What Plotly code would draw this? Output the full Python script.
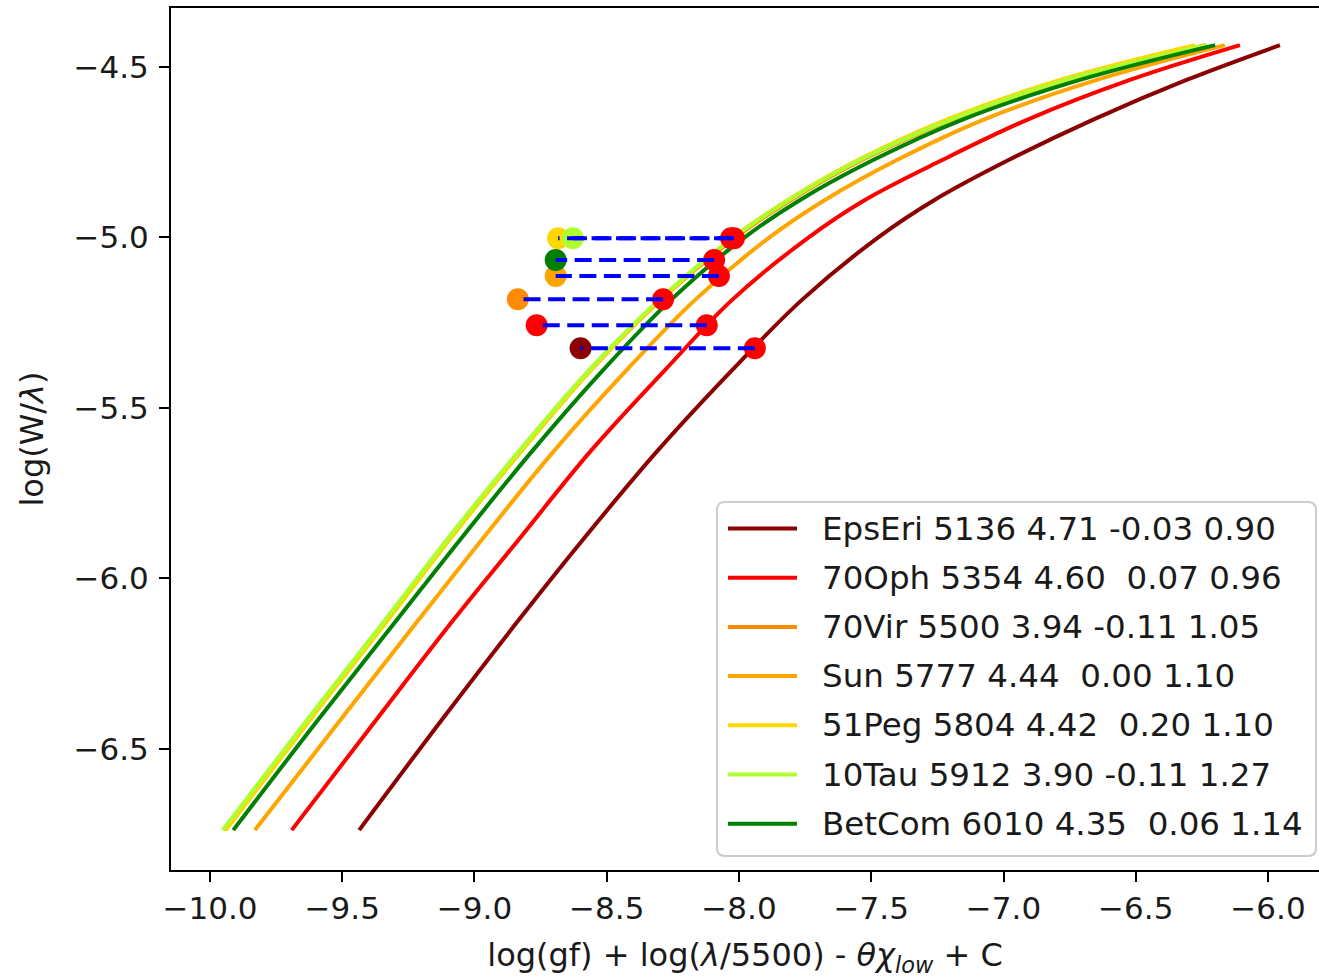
import plotly.graph_objects as go

# Stars: name, Teff, log g, [Fe/H], microturbulence, line colour
stars = ["EpsEri", "70Oph", "70Vir", "Sun", "51Peg", "10Tau", "BetCom"]
teff = [5136, 5354, 5500, 5777, 5804, 5912, 6010]
logg = [4.71, 4.60, 3.94, 4.44, 4.42, 3.90, 4.35]
feh = [-0.03, 0.07, -0.11, 0.00, 0.20, -0.11, 0.06]
vt = [0.90, 0.96, 1.05, 1.10, 1.10, 1.27, 1.14]
colors = ["darkred", "red", "darkorange", "orange", "gold", "greenyellow", "green"]

# Curves of growth: log(W/lambda) levels shared by all stars,
# abscissa of each star's curve at those levels
log_w = [-6.738, -6.415, -6.122, -5.887, -5.623, -5.389, -5.183, -5.001,
         -4.890, -4.773, -4.655, -4.538, -4.436]
cog_x = {
    "EpsEri": [-9.436, -9.124, -8.833, -8.591, -8.305, -8.026, -7.762, -7.476,
               -7.261, -6.981, -6.663, -6.308, -5.955],
    "70Oph":  [-9.691, -9.372, -9.080, -8.834, -8.557, -8.280, -8.026, -7.739,
               -7.524, -7.232, -6.911, -6.522, -6.106],
    "70Vir":  [-9.947, -9.626, -9.331, -9.098, -8.820, -8.560, -8.295, -8.015,
               -7.803, -7.535, -7.195, -6.756, -6.238],
    "Sun":    [-9.830, -9.507, -9.212, -8.973, -8.696, -8.425, -8.166, -7.887,
               -7.675, -7.403, -7.077, -6.647, -6.163],
    "51Peg":  [-9.940, -9.622, -9.327, -9.095, -8.819, -8.560, -8.297, -8.023,
               -7.815, -7.550, -7.217, -6.786, -6.276],
    "10Tau":  [-9.952, -9.633, -9.338, -9.105, -8.828, -8.567, -8.302, -8.023,
               -7.811, -7.543, -7.202, -6.764, -6.231],
    "BetCom": [-9.912, -9.592, -9.294, -9.055, -8.778, -8.514, -8.257, -7.981,
               -7.769, -7.493, -7.157, -6.711, -6.200],
}

# Measured line of each star and the matching point on its curve
star_x = [-8.599, -8.765, -8.836, -8.693, -8.684, -8.628, -8.693]
star_logw = [-5.325, -5.2575, -5.181, -5.113, -5.002, -5.002, -5.066]
curve_x = [-7.940, -8.122, -8.287, -8.076, -8.030, -8.019, -8.094]

xticks = [-10.0, -9.5, -9.0, -8.5, -8.0, -7.5, -7.0, -6.5, -6.0]
yticks = [-4.5, -5.0, -5.5, -6.0, -6.5]

W, H = 1319, 978
L, T, R, B = 171, 8, 1319, 870
FONT = "DejaVu Sans"
TXT = "#1a1a1a"

fig = go.Figure()

for name, col in zip(stars, colors):
    fig.add_trace(go.Scatter(
        x=cog_x[name], y=log_w, mode="lines",
        line=dict(color=col, width=4, shape="spline", smoothing=1.0),
        showlegend=False, hoverinfo="skip"))

for i, col in enumerate(colors):
    fig.add_trace(go.Scatter(
        x=[star_x[i]], y=[star_logw[i]], mode="markers",
        marker=dict(color=col, size=22, line=dict(width=0)),
        showlegend=False, hoverinfo="skip"))
for i in range(len(stars)):
    fig.add_trace(go.Scatter(
        x=[curve_x[i]], y=[star_logw[i]], mode="markers",
        marker=dict(color="red", size=22, line=dict(width=0)),
        showlegend=False, hoverinfo="skip"))
# dashed connectors, drawn from the curve point back to the star point
for i in range(len(stars)):
    fig.add_trace(go.Scatter(
        x=[curve_x[i], star_x[i]], y=[star_logw[i], star_logw[i]], mode="lines",
        line=dict(color="blue", width=4, dash="17px,7.5px"),
        showlegend=False, hoverinfo="skip"))


def px_x(p):
    return (p - L) / (R - L)


def px_y(p):
    return (B - p) / (B - T)


# Legend frame (rounded corners)
x0, x1, y0, y1, r = 717, 1316, 502, 856, 8
rx, ry = r / (R - L), r / (B - T)
X0, X1, Y0, Y1 = px_x(x0), px_x(x1), px_y(y1), px_y(y0)
path = (f"M {X0+rx},{Y0} L {X1-rx},{Y0} Q {X1},{Y0} {X1},{Y0+ry} "
        f"L {X1},{Y1-ry} Q {X1},{Y1} {X1-rx},{Y1} L {X0+rx},{Y1} "
        f"Q {X0},{Y1} {X0},{Y1-ry} L {X0},{Y0+ry} Q {X0},{Y0} {X0+rx},{Y0} Z")
shapes = [dict(type="path", path=path, xref="paper", yref="paper",
               fillcolor="rgba(255,255,255,0.8)", line=dict(color="#cccccc", width=2))]
annotations = []
row0, row_step = 528.5, 49.2
for i, (name, col) in enumerate(zip(stars, colors)):
    yy = px_y(row0 + i * row_step)
    shapes.append(dict(type="line", xref="paper", yref="paper",
                       x0=px_x(728), x1=px_x(797), y0=yy, y1=yy,
                       line=dict(color=col, width=4)))
    label = f"{name} {teff[i]} {logg[i]:.2f} {feh[i]:5.2f} {vt[i]:.2f}"
    annotations.append(dict(text=label.replace(" ", "\u00a0"), xref="paper", yref="paper",
                            x=px_x(820), y=yy, xanchor="left", yanchor="middle",
                            showarrow=False, font=dict(family=FONT, size=32.5, color=TXT)))

fig.update_layout(
    width=W, height=H,
    margin=dict(l=L, r=W - R, t=T, b=H - B, pad=0),
    paper_bgcolor="white", plot_bgcolor="white",
    font=dict(family=FONT, size=32, color="black"),
    shapes=shapes, annotations=annotations,
    showlegend=False,
)
fig.update_xaxes(
    range=[-10.1474, -5.8072], showgrid=False, zeroline=False,
    showline=True, linecolor="black", linewidth=2, mirror=True,
    ticks="outside", ticklen=10, tickwidth=2, tickcolor="black",
    tickvals=xticks, ticktext=[f"{v:.1f}".replace("-", "\u2212") for v in xticks],
    tickfont=dict(family=FONT, size=31, color=TXT),
    title=dict(text="log(gf) + log(<i>λ</i>/5500) - <i>θχ</i><sub><i>low</i></sub> + C",
               font=dict(family=FONT, size=32, color=TXT), standoff=20),
)
fig.update_yaxes(
    range=[-6.855, -4.327], showgrid=False, zeroline=False,
    showline=True, linecolor="black", linewidth=2, mirror=False,
    ticks="outside", ticklen=10, tickwidth=2, tickcolor="black",
    ticklabelstandoff=4,
    tickvals=yticks, ticktext=[f"{v:.1f}".replace("-", "\u2212") for v in yticks],
    tickfont=dict(family=FONT, size=31, color=TXT),
    title=dict(text="log(W/<i>λ</i>)", font=dict(family=FONT, size=32, color=TXT), standoff=20),
)

fig.write_html("out.html")
